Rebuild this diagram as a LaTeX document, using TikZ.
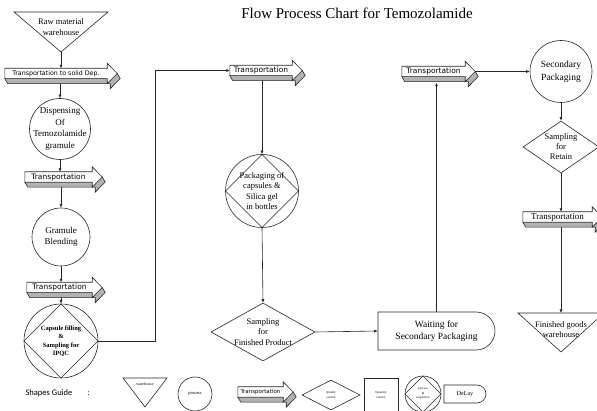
\documentclass[tikz,border=0pt]{standalone}
\usepackage{fontspec}
\setmainfont{Liberation Serif}
\newfontfamily\guidefont{Carlito}
\newfontfamily\trfont{DejaVu Sans}
\usetikzlibrary{shapes.geometric,shapes.misc,arrows.meta,calc}
\pgfdeclarelayer{back}
\pgfdeclarelayer{mid}
\pgfsetlayers{back,mid,main}

\tikzset{
	line/.style={draw=black!85,line width=0.6pt},
	arr/.style={line,-{Latex[length=3.5pt,width=3pt]}},
	txt/.style={align=center,inner sep=0pt,font=\fontsize{9}{11.5}\selectfont},
	proc/.style={line,circle,fill=white,inner sep=0pt},
	insp/.style={proc,path picture={
		\draw[line] (path picture bounding box.north) -- (path picture bounding box.east)
		-- (path picture bounding box.south) -- (path picture bounding box.west) -- cycle;}},
	qc/.style={line,diamond,fill=white,inner sep=0pt},
	qn/.style={line,rectangle,fill=white,inner sep=0pt},
	delay/.style={line,rounded rectangle,rounded rectangle west arc=none,fill=white,inner sep=0pt},
	trans/.style={inner sep=0pt,minimum height=10pt,font=\trfont\fontsize{7.5}{9}\selectfont},
}

\begin{document}
\begin{tikzpicture}[x=1pt,y=-1pt]
		\useasboundingbox (0,0) rectangle (597,411);
		
		\node[font=\fontsize{15}{18}\selectfont] (title) at (357,13) {Flow Process Chart for Temozolamide};
		
		\draw[line] (14,12) -- (108,12) -- (61,52) coordinate (w1tip) -- cycle;
		\node[txt,font=\fontsize{8.5}{11}\selectfont] (w1) at (61,27) {Raw material\\warehouse};
		
		\node[trans,minimum width=102,font=\trfont\fontsize{6.3}{8}\selectfont] (t1) at (56,73.5) {Transportation to solid Dep.};
		\node[proc,minimum size=61,label={[txt]center:Dispensing\\Of\\Temozolamide\\gramule}] (c1) at (60,129) {};
		\node[trans,minimum width=67] (t2) at (58.5,177) {Transportation};
		\node[proc,minimum size=58,label={[txt]center:Gramule\\Blending}] (c2) at (61,237) {};
		\node[trans,minimum width=65] (t3) at (59.5,287.5) {Transportation};
		\node[insp,minimum size=74,label={[txt,font=\bfseries\fontsize{6.5}{8.5}\selectfont]center:Capsule filling\\\&\\Sampling for\\IPQC}] (c3) at (61,341) {};
		
		\node[trans,minimum width=62] (t4) at (261,70.5) {Transportation};
		\node[insp,minimum size=73,label={[txt,font=\fontsize{8.5}{10.3}\selectfont]center:Packaging of\\capsules \&\\Silica gel\\in bottles}] (c4) at (262,191) {};
		\node[qc,minimum width=104,minimum height=58,label={[txt,font=\fontsize{8.5}{10.5}\selectfont]center:Sampling\\for\\Finished Product}] (d1) at (263,332) {};
		\node[delay,minimum width=117,minimum height=38,label={[txt,font=\fontsize{9.5}{12.5}\selectfont]center:Waiting for\\Secondary Packaging}] (dl) at (436.5,331) {};
		
		\node[trans,minimum width=63] (t5) at (433.5,71.5) {Transportation};
		\node[proc,minimum size=62,label={[txt,font=\fontsize{9.5}{13}\selectfont]center:Secondary\\Packaging}] (c6) at (561,71.5) {};
		\node[qc,minimum width=76,minimum height=52,label={[txt,font=\fontsize{8.5}{10}\selectfont]center:Sampling\\for\\Retain}] (d2) at (561,147) {};
		\node[trans,minimum width=69,font=\rmfamily\fontsize{9}{10}\selectfont] (t6) at (557.5,217) {Transportation};
		\draw[line] (518,313) -- (604,313) -- (561,352) -- cycle;
		\coordinate (w2top) at (561,313);
		\node[txt,font=\fontsize{8.5}{10}\selectfont] (w2) at (561,330) {Finished goods\\warehouse};
		
		\node[font=\guidefont\fontsize{8.5}{10}\selectfont,anchor=west] (sg) at (22,393) {Shapes Guide\hspace{15pt}:};
		\draw[line] (123,378) -- (167,378) -- (145,407) -- cycle;
		\node[txt,font=\fontsize{4}{5}\selectfont] (gw) at (145,384) {warehouse};
		\node[proc,minimum size=34,label={[txt,font=\fontsize{4.5}{5}\selectfont]center:process}] (gp) at (195,394) {};
		\node[trans,minimum width=45,font=\trfont\fontsize{5.5}{6}\selectfont] (tg) at (260.5,392) {Transportation};
		\node[qc,minimum width=58,minimum height=30,label={[txt,font=\fontsize{3.2}{4.5}\selectfont]center:Quality\\control}] (gq) at (331,395) {};
		\node[qn,minimum size=34,label={[txt,font=\fontsize{3.2}{5}\selectfont]center:Quantity\\control}] (gn) at (381,395) {};
		\node[insp,minimum size=36,label={[txt,font=\fontsize{3.2}{4.5}\selectfont]center:process\\\&\\inspection}] (gi) at (423,394) {};
		\node[delay,minimum width=42,minimum height=18,label={[txt,font=\fontsize{6}{7}\selectfont]center:DeLay}] (gd) at (465,394) {};
		
		\begin{pgfonlayer}{mid}
			\foreach \t in {t1,t2,t3,t4,t5,t6,tg}{
				\filldraw[line,fill=gray!60] (\t.south west) -- ++(3,5) -- ($(\t.south east)+(3,5)$) -- ($(\t.south east)+(3,10)$)
				-- ($(\t.east)+(13,5)$) -- ($(\t.east)+(10,0)$) -- (\t.south east) -- cycle;
				\filldraw[line,fill=white] (\t.north west) -- (\t.north east) -- ++(0,-5) -- ($(\t.east)+(10,0)$)
				-- ($(\t.south east)+(0,5)$) -- (\t.south east) -- (\t.south west) -- cycle;
			}
		\end{pgfonlayer}
		
		\begin{pgfonlayer}{back}
			\draw[arr] (w1tip) -- (w1tip |- t1.north);
			\draw[arr] (c1 |- t1) -- (c1.north);
			\draw[arr] (c1.south) -- (c1.south |- t2.north);
			\draw[arr] (c2 |- t2) -- (c2.north);
			\draw[arr] (c2.south) -- (c2.south |- t3.north);
			\draw[arr] (c3 |- t3) -- (c3.north);
			\draw[arr] (c3.east) -- ++(57,0) |- (t4.west);
			\draw[arr] (c4 |- t4) -- (c4.north);
			\draw[arr] (c4.south) -- (d1.north);
			\draw[arr] (d1.east) -- (dl.west);
			\draw[arr] (dl.north) -- ([yshift=-6pt]dl.north |- t5.south);
			\draw[arr] (t5.east) -- (c6.west);
			\draw[arr] (c6.south) -- (d2.north);
			\draw[arr] (d2.south) -- (d2.south |- t6.north);
			\draw[arr] (d2 |- t6) -- (w2top);
		\end{pgfonlayer}
\end{tikzpicture}
\end{document}
